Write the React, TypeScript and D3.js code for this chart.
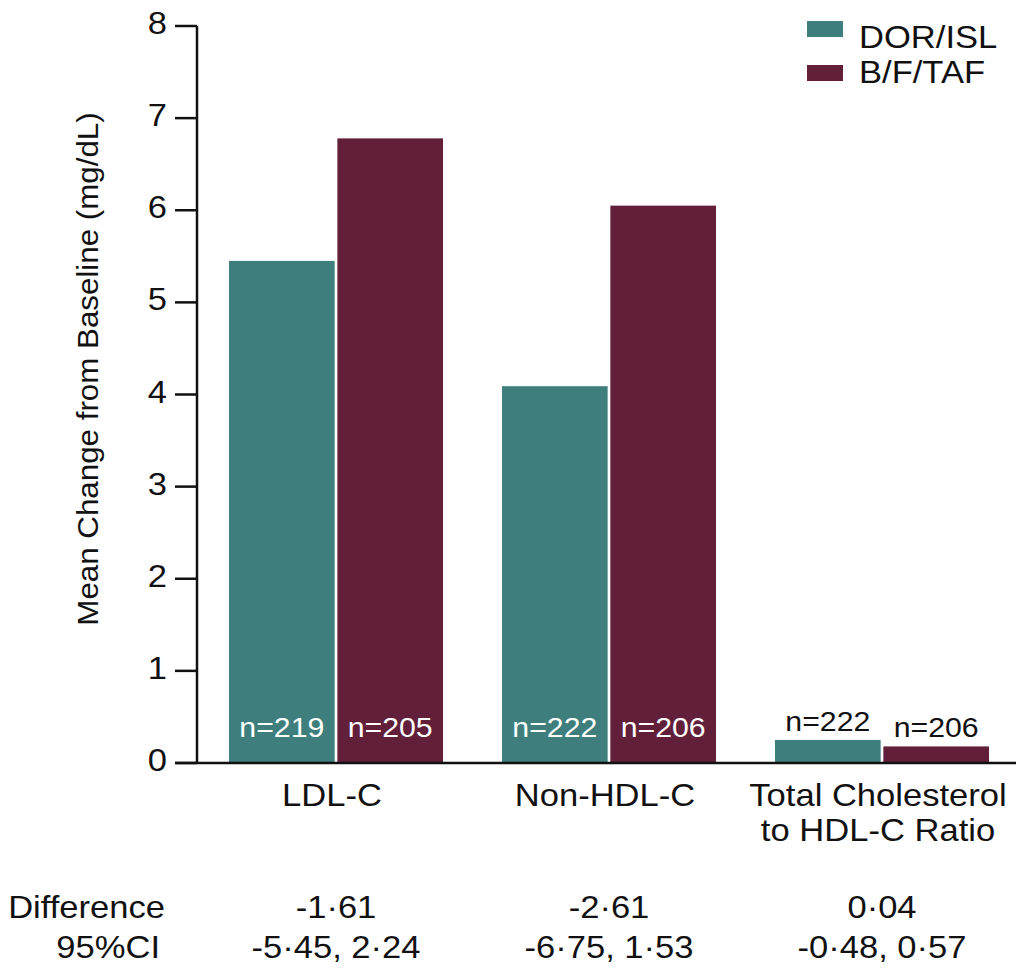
import * as d3 from 'd3';

const categories = ['LDL-C', 'Non-HDL-C', 'Total Cholesterol to HDL-C Ratio'];
const categoryLines = [['LDL-C'], ['Non-HDL-C'], ['Total Cholesterol', 'to HDL-C Ratio']];
const series = ['DOR/ISL', 'B/F/TAF'];
const dorIsl = [5.45, 4.09, 0.25];
const bfTaf = [6.78, 6.05, 0.18];
const nDorIsl = ['n=219', 'n=222', 'n=222'];
const nBfTaf = ['n=205', 'n=206', 'n=206'];
const differences = ['-1·61', '-2·61', '0·04'];
const cis = ['-5·45, 2·24', '-6·75, 1·53', '-0·48, 0·57'];
const yTicks = [0, 1, 2, 3, 4, 5, 6, 7, 8];

const colors = ['#3e7f7e', '#621f3a'];
const font = '"Liberation Sans", Arial, sans-serif';
const stretch = 1.08;

// text drawn slightly wider than Liberation Sans, like the source
function T({ x, y, size = 32, anchor = 'start', fill = '#111', rotate = 0, children }: any) {
    return (
        <text
            transform={`translate(${x},${y}) rotate(${rotate}) scale(${stretch},1)`}
            textAnchor={anchor}
            fontSize={size}
            fill={fill}
        >{children}</text>
    );
}

export default function App() {
    const width = 1016;
    const height = 975;
    const axisX = 197;
    const top = 26;
    const base = 763;

    const y = d3.scaleLinear().domain([0, 8]).range([base, top]);
    const x = d3.scaleBand().domain(categories).range([199.5, 1018.5]).paddingInner(0.216).paddingOuter(0.108);
    const xi = d3.scaleBand().domain(series).range([0, x.bandwidth()]).paddingInner(0.025);

    const values = [dorIsl, bfTaf];
    const labels = [nDorIsl, nBfTaf];
    const mid = (c: string) => x(c)! + x.bandwidth() / 2;

    return (
        <div style={{ position: 'absolute', left: 0, top: 0 }}>
            <svg width={width} height={height} style={{ fontFamily: font, display: 'block' }}>
                <rect width={width} height={height} fill="white" />
                {/* bars */}
                {categories.map((c, ci) => (
                    <g key={c} transform={`translate(${x(c)},0)`}>
                        {series.map((s, si) => {
                            const v = values[si][ci];
                            const bx = xi(s)!;
                            const inside = y(0) - y(v) > 60;
                            return (
                                <g key={s}>
                                    <rect x={bx} y={y(v)} width={xi.bandwidth()} height={y(0) - y(v)} fill={colors[si]} />
                                    <T
                                        x={bx + xi.bandwidth() / 2}
                                        y={inside ? base - 26 : y(v) - 9}
                                        anchor="middle"
                                        size={28}
                                        fill={inside ? 'white' : '#111'}
                                    >{labels[si][ci]}</T>
                                </g>
                            );
                        })}
                    </g>
                ))}
                {/* y axis */}
                <line x1={axisX} x2={axisX} y1={top} y2={base} stroke="#111" strokeWidth={2.5} />
                <line x1={175} x2={width} y1={base} y2={base} stroke="#111" strokeWidth={2.5} />
                {yTicks.map(t => (
                    <g key={t}>
                        <line x1={175} x2={axisX} y1={y(t)} y2={y(t)} stroke="#111" strokeWidth={2.5} />
                        <T x={167} y={y(t) + 8} anchor="end">{t}</T>
                    </g>
                ))}
                <T x={98} y={369} anchor="middle" size={29} rotate={-90}>Mean Change from Baseline (mg/dL)</T>
                {/* category labels */}
                {categories.map((c, ci) => (
                    <g key={c}>
                        {categoryLines[ci].map((l, li) => (
                            <T key={l} x={mid(c) - 4} y={806 + li * 35} anchor="middle">{l}</T>
                        ))}
                    </g>
                ))}
                {/* differences */}
                <T x={165} y={918} anchor="end">Difference</T>
                <T x={160} y={958} anchor="end">95%CI</T>
                {categories.map((c, ci) => (
                    <g key={c}>
                        <T x={mid(c)} y={918} anchor="middle">{differences[ci]}</T>
                        <T x={mid(c)} y={958} anchor="middle">{cis[ci]}</T>
                    </g>
                ))}
                {/* legend */}
                {series.map((s, si) => (
                    <g key={s}>
                        <rect x={807} y={21 + si * 44} width={36} height={16} fill={colors[si]} />
                        <T x={859} y={48 + si * 35}>{s}</T>
                    </g>
                ))}
            </svg>
        </div>
    );
}
